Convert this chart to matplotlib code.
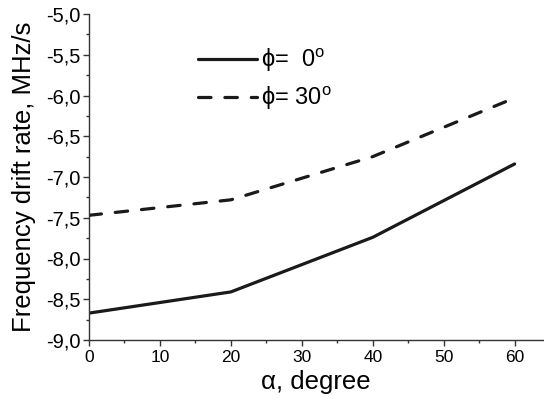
import numpy as np
import matplotlib
matplotlib.use("Agg")
import matplotlib.pyplot as plt
from matplotlib.ticker import MultipleLocator, FuncFormatter

# data
alpha = [0, 20, 40, 60]
rate_phi0 = [-8.67, -8.41, -7.74, -6.84]
rate_phi30 = [-7.47, -7.28, -6.75, -6.03]
labels = ["ϕ=  0$^\\mathregular{o}$", "ϕ= 30$^\\mathregular{o}$"]

plt.rcParams["font.family"] = ["Liberation Sans", "DejaVu Sans"]
plt.rcParams["mathtext.fontset"] = "custom"
plt.rcParams["mathtext.rm"] = "Liberation Sans"
plt.rcParams["lines.scale_dashes"] = False

fig = plt.figure(figsize=(5.44, 4.0), dpi=100)
ax = fig.add_axes([89 / 544, 0.15, (543 - 89) / 544, 0.815])

ax.plot(alpha, rate_phi0, color="#1a1a1a", lw=2.3, solid_capstyle="round",
        label=labels[0])
ax.plot(alpha, rate_phi30, color="#1a1a1a", lw=2.3, dashes=(9, 10),
        dash_capstyle="round", label=labels[1])

ax.set_xlim(0, 64)
ax.set_ylim(-9.0, -5.0)
ax.xaxis.set_major_locator(MultipleLocator(10))
ax.xaxis.set_minor_locator(MultipleLocator(5))
ax.yaxis.set_major_locator(MultipleLocator(0.5))
ax.yaxis.set_minor_locator(MultipleLocator(0.25))
ax.yaxis.set_major_formatter(FuncFormatter(lambda v, p: f"{v:.1f}".replace(".", ",")))

for s in ["top", "right"]:
    ax.spines[s].set_visible(False)
for s in ["left", "bottom"]:
    ax.spines[s].set_linewidth(1.0)
    ax.spines[s].set_color("#333333")

ax.tick_params(which="major", direction="out", length=4, width=1,
               color="#333333", labelsize=14.5)
ax.tick_params(which="minor", direction="out", length=2.5, width=1,
               color="#333333")
ax.tick_params(axis="y", pad=2)
ax.tick_params(axis="x", labelsize=12.5, pad=3)

ax.set_xlabel("α, degree", fontsize=18.5, labelpad=4)
ax.set_ylabel("Frequency drift rate, MHz/s", fontsize=18.5, labelpad=7)

leg = ax.legend(loc="upper left", bbox_to_anchor=(198 / 544, 1 - 46 / 400),
                bbox_transform=fig.transFigure, frameon=False, fontsize=17,
                handlelength=2.5, handletextpad=0.15, labelspacing=0.45,
                borderpad=0, borderaxespad=0)

fig.savefig("out.png", dpi=100)
